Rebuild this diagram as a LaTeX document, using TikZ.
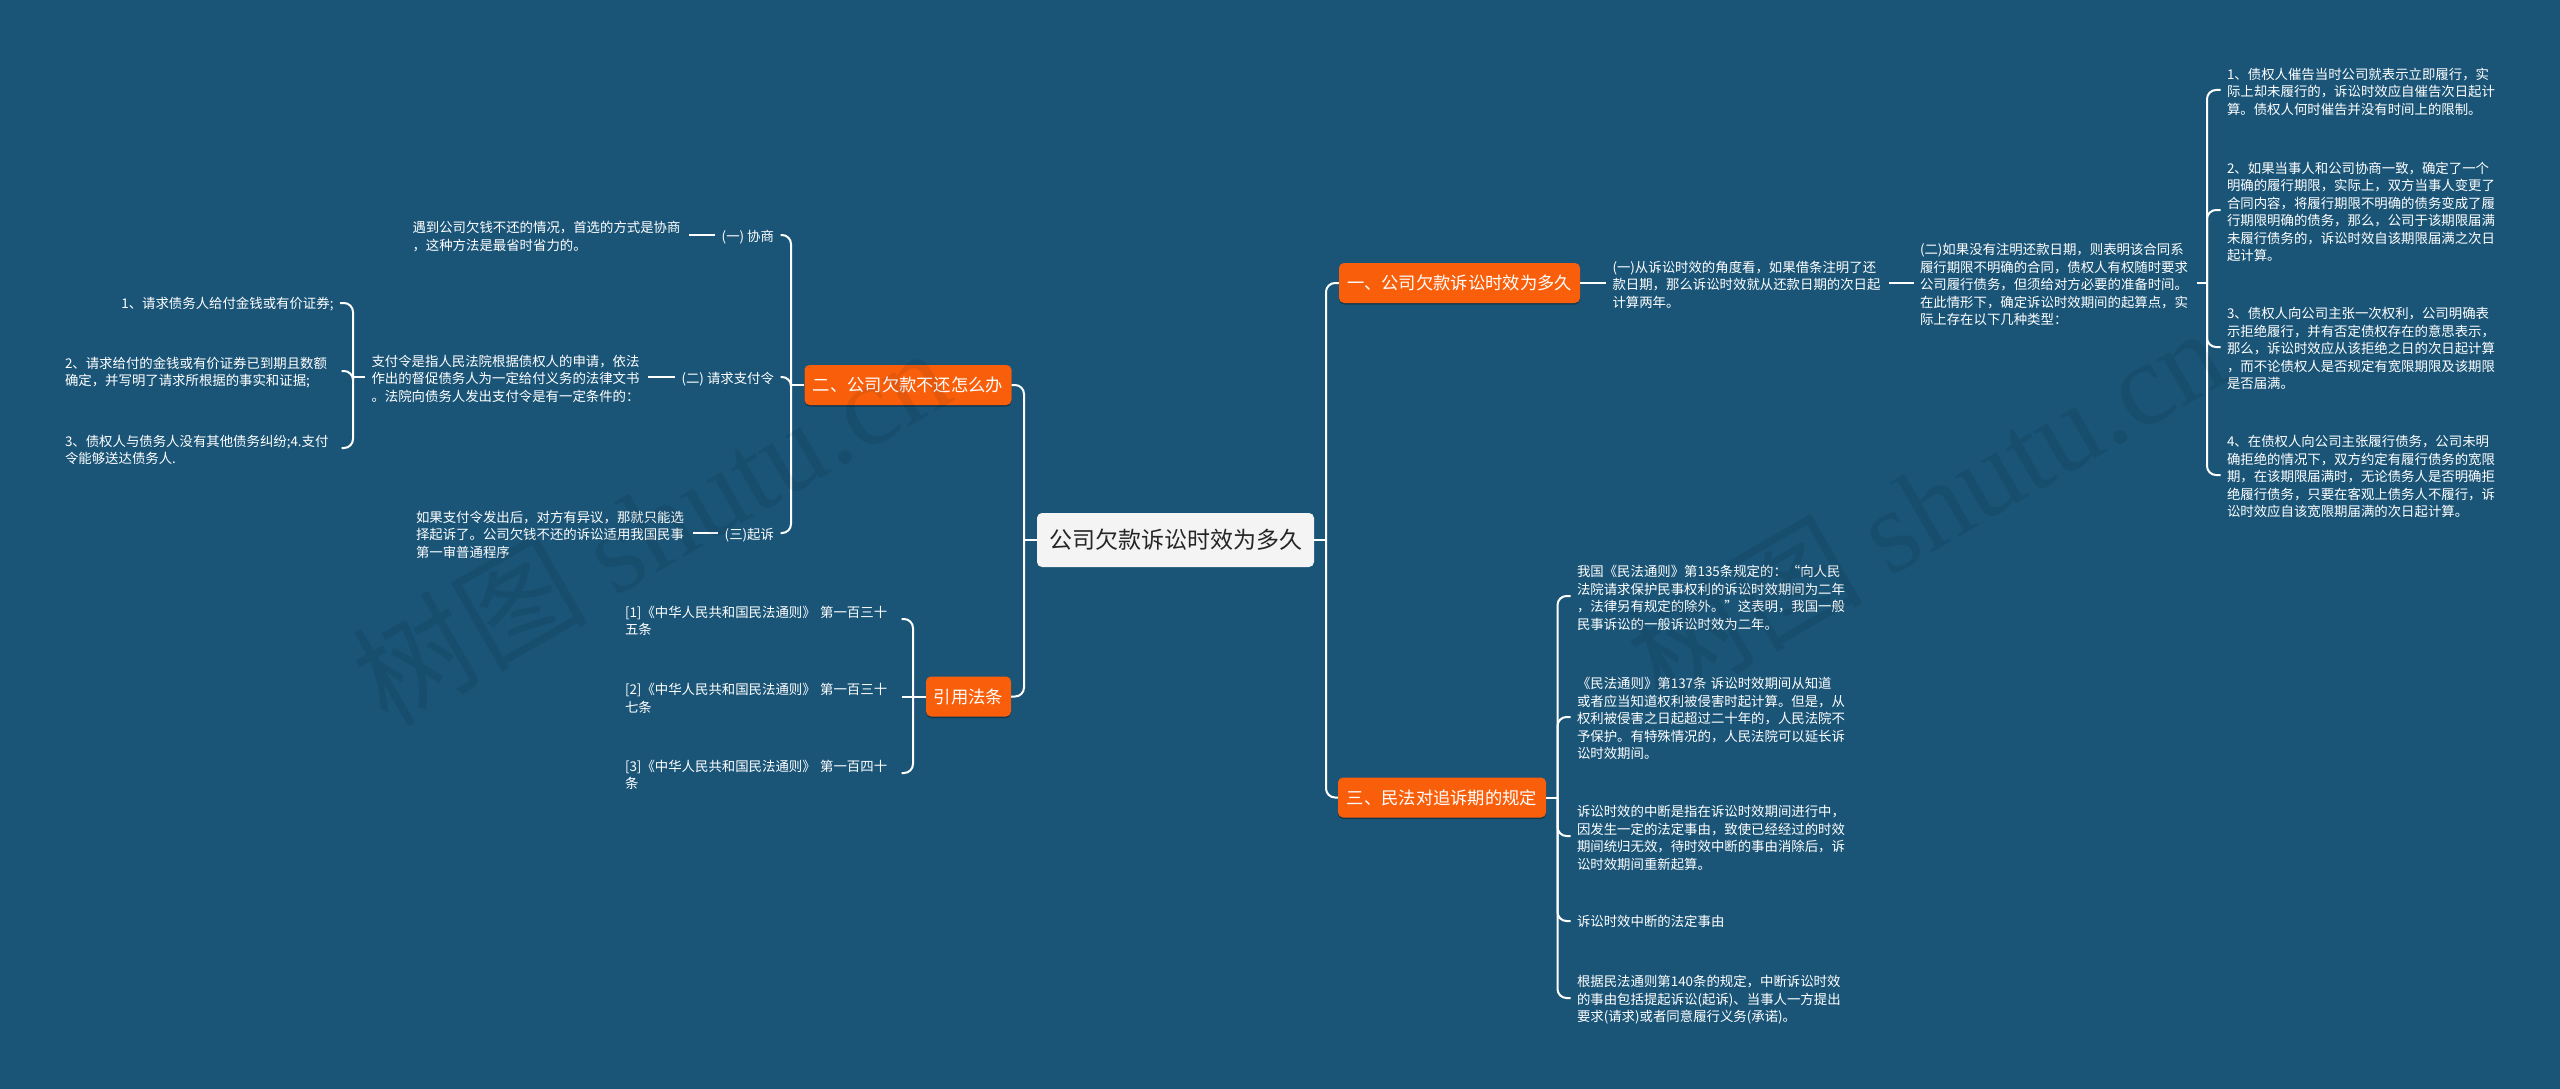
\documentclass[tikz,border=0pt]{standalone}
\usepackage{fontspec}
\setmainfont{Noto Sans CJK SC}
\newfontfamily\markfont{Liberation Serif}
\usetikzlibrary{shadows}
\definecolor{bgblue}{HTML}{1A5578}
\definecolor{topicorange}{HTML}{F95F0B}
\definecolor{rootgray}{HTML}{F4F4F4}
\tikzset{
    link/.style = {white, line width = 2pt, rounded corners = 9pt},
    topic/.style = {
        fill = topicorange,
        text = white,
        rounded corners = 5pt,
        inner sep = 0pt,
        minimum height = 40pt,
        font = \fontsize{17.3}{20}\selectfont,
        general shadow = {shadow yshift = -1.5pt, fill = black, opacity = 0.35}
    },
    leaf/.style = {
        text = white,
        text width = 270pt,
        align = left,
        inner sep = 0pt,
        outer xsep = 6.5pt,
        font = \fontsize{13.4}{17.5}\selectfont,
        execute at end node = {\par\vspace{-3.5pt}}
    },
    tag/.style = {
        text = white,
        inner sep = 0pt,
        outer xsep = 6.5pt,
        text height = 14pt,
        text depth = 2pt,
        font = \fontsize{13.4}{17.5}\selectfont
    },
    wmark/.style = {
        rotate = 30,
        text = black,
        opacity = 0.08,
        font = \fontsize{118}{118}\selectfont
    }
}

\begin{document}
\begin{tikzpicture}[x = 1pt, y = -1pt]
    \useasboundingbox (0,0) rectangle (2560,1089);
    \fill [bgblue] (0,0) rectangle (2560,1089);

    \draw (1175.5,540) node(R) [
        fill = rootgray,
        text = black!85,
        rounded corners = 5pt,
        inner sep = 0pt,
        minimum width = 277pt,
        minimum height = 54pt,
        font = \fontsize{23}{26}\selectfont
    ]
    {公司欠款诉讼时效为多久};

    \draw (1459.5,283) node(Ta) [topic, minimum width = 241pt] {一、公司欠款诉讼时效为多久};
    \draw (908,385) node(Tb) [topic, minimum width = 207pt] {二、公司欠款不还怎么办};
    \draw (968.5,696.5) node(Tc) [topic, minimum width = 85pt] {引用法条};
    \draw (1442,797.5) node(Td) [topic, minimum width = 208pt] {三、民法对追诉期的规定};

    \coordinate (Jr) at (1326,540);
    \coordinate (Jl) at (1024,540);
    \draw [link] (R.east) -- (Jr);
    \draw [link] (R.west) -- (Jl);
    \draw [link] (Jr) |- (Ta.west);
    \draw [link] (Jr) |- (Td.west);
    \draw [link] (Jl) |- (Tb.east);
    \draw [link] (Jl) |- (Tc.east);

    \draw (1606,283) node(Pa) [leaf, anchor = west]
    {(一)从诉讼时效的角度看，如果借条注明了还\\款日期，那么诉讼时效就从还款日期的次日起\\计算两年。};
    \draw (1913.5,283) node(Pb) [leaf, anchor = west]
    {(二)如果没有注明还款日期，则表明该合同系\\履行期限不明确的合同，债权人有权随时要求\\公司履行债务，但须给对方必要的准备时间。\\在此情形下，确定诉讼时效期间的起算点，实\\际上存在以下几种类型：};
    \draw [link] (Ta.east) -- (Pa.west);
    \draw [link] (Pa.east) -- (Pb.west);

    \coordinate (Ja) at (2207,283);
    \draw [link] (Pb.east) -- (Ja);
    \draw (2220.5,90) node(Qa) [leaf, anchor = west]
    {1、债权人催告当时公司就表示立即履行，实\\际上却未履行的，诉讼时效应自催告次日起计\\算。债权人何时催告并没有时间上的限制。};
    \draw (2220.5,210) node(Qb) [leaf, anchor = west]
    {2、如果当事人和公司协商一致，确定了一个\\明确的履行期限，实际上，双方当事人变更了\\合同内容，将履行期限不明确的债务变成了履\\行期限明确的债务，那么，公司于该期限届满\\未履行债务的，诉讼时效自该期限届满之次日\\起计算。};
    \draw (2220.5,347) node(Qc) [leaf, anchor = west]
    {3、债权人向公司主张一次权利，公司明确表\\示拒绝履行，并有否定债权存在的意思表示，\\那么，诉讼时效应从该拒绝之日的次日起计算\\，而不论债权人是否规定有宽限期限及该期限\\是否届满。};
    \draw (2220.5,475) node(Qd) [leaf, anchor = west]
    {4、在债权人向公司主张履行债务，公司未明\\确拒绝的情况下，双方约定有履行债务的宽限\\期，在该期限届满时，无论债务人是否明确拒\\绝履行债务，只要在客观上债务人不履行，诉\\讼时效应自该宽限期届满的次日起计算。};
    \draw [link] (Ja) |- (Qa.west);
    \draw [link] (Ja) |- (Qb.west);
    \draw [link] (Ja) |- (Qc.west);
    \draw [link] (Ja) |- (Qd.west);

    \coordinate (Jb) at (791,385);
    \draw [link] (Tb.west) -- (Jb);
    \draw (780.5,235) node(La) [tag, anchor = east] {(一) 协商};
    \draw (780.5,377) node(Lb) [tag, anchor = east] {(二) 请求支付令};
    \draw (780.5,533) node(Lc) [tag, anchor = east] {(三)起诉};
    \draw [link] (Jb) |- (La.east);
    \draw [link] (Jb) |- (Lb.east);
    \draw [link] (Jb) |- (Lc.east);

    \draw (689,235) node(Ma) [leaf, anchor = east]
    {遇到公司欠钱不还的情况，首选的方式是协商\\，这种方法是最省时省力的。};
    \draw (648,377) node(Mb) [leaf, anchor = east]
    {支付令是指人民法院根据债权人的申请，依法\\作出的督促债务人为一定给付义务的法律文书\\。法院向债务人发出支付令是有一定条件的：};
    \draw (692.5,533) node(Mc) [leaf, anchor = east]
    {如果支付令发出后，对方有异议，那就只能选\\择起诉了。公司欠钱不还的诉讼适用我国民事\\第一审普通程序};
    \draw [link] (La.west) -- (Ma.east);
    \draw [link] (Lb.west) -- (Mb.east);
    \draw [link] (Lc.west) -- (Mc.east);

    \coordinate (Jc) at (353,377);
    \draw [link] (Mb.west) -- (Jc);
    \draw (340,303) node(Na) [leaf, anchor = east, align = right]
    {1、请求债务人给付金钱或有价证券;};
    \draw (341.5,371) node(Nb) [leaf, anchor = east]
    {2、请求给付的金钱或有价证券已到期且数额\\确定，并写明了请求所根据的事实和证据;};
    \draw (341.5,448) node(Nc) [leaf, anchor = east]
    {3、债权人与债务人没有其他债务纠纷;4.支付\\令能够送达债务人.};
    \draw [link] (Jc) |- (Na.east);
    \draw [link] (Jc) |- (Nb.east);
    \draw [link] (Jc) |- (Nc.east);

    \coordinate (Jd) at (913,696.5);
    \draw [link] (Tc.west) -- (Jd);
    \draw (901.5,619) node(Ua) [leaf, anchor = east]
    {[1]《中华人民共和国民法通则》 第一百三十\\五条};
    \draw (901.5,696.5) node(Ub) [leaf, anchor = east]
    {[2]《中华人民共和国民法通则》 第一百三十\\七条};
    \draw (901.5,773) node(Uc) [leaf, anchor = east]
    {[3]《中华人民共和国民法通则》 第一百四十\\条};
    \draw [link] (Jd) |- (Ua.east);
    \draw [link] (Jd) -- (Ub.east);
    \draw [link] (Jd) |- (Uc.east);

    \coordinate (Je) at (1557.5,797.5);
    \draw [link] (Td.east) -- (Je);
    \draw (1570.5,596) node(Sa) [leaf, anchor = west]
    {我国《民法通则》第135条规定的：“向人民\\法院请求保护民事权利的诉讼时效期间为二年\\，法律另有规定的除外。”这表明，我国一般\\民事诉讼的一般诉讼时效为二年。};
    \draw (1570.5,717) node(Sb) [leaf, anchor = west]
    {《民法通则》第137条 诉讼时效期间从知道\\或者应当知道权利被侵害时起计算。但是，从\\权利被侵害之日起超过二十年的，人民法院不\\予保护。有特殊情况的，人民法院可以延长诉\\讼时效期间。};
    \draw (1570.5,836) node(Sc) [leaf, anchor = west]
    {诉讼时效的中断是指在诉讼时效期间进行中，\\因发生一定的法定事由，致使已经经过的时效\\期间统归无效，待时效中断的事由消除后，诉\\讼时效期间重新起算。};
    \draw (1570.5,921) node(Sd) [leaf, anchor = west]
    {诉讼时效中断的法定事由};
    \draw (1570.5,998) node(Se) [leaf, anchor = west]
    {根据民法通则第140条的规定，中断诉讼时效\\的事由包括提起诉讼(起诉)、当事人一方提出\\要求(请求)或者同意履行义务(承诺)。};
    \draw [link] (Je) |- (Sa.west);
    \draw [link] (Je) |- (Sb.west);
    \draw [link] (Je) |- (Sc.west);
    \draw [link] (Je) |- (Sd.west);
    \draw [link] (Je) |- (Se.west);

    \draw (650,525) node(Wa) [wmark] {树图 {\markfont shutu.cn}};
    \draw (1925,505) node(Wb) [wmark] {树图 {\markfont shutu.cn}};
\end{tikzpicture}
\end{document}
